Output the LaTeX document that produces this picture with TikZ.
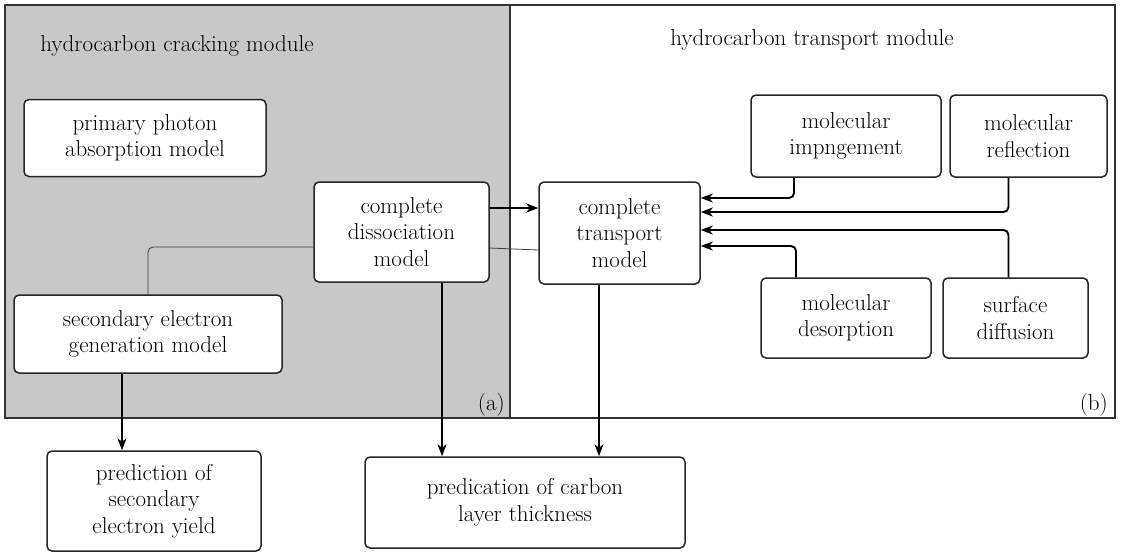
\documentclass[tikz,border=0pt]{standalone}
\usetikzlibrary{arrows.meta}
\definecolor{panelgray}{RGB}{200,200,200}
\definecolor{linegray}{RGB}{60,60,60}
\begin{document}
\begin{tikzpicture}[x=1pt,y=-1pt,
  box/.style={draw=black!85, line width=1.5pt, rounded corners=5pt, fill=white, align=center, inner sep=0pt, font=\fontsize{23}{26.5}\selectfont},
  arr/.style={line width=1.9pt, -{Stealth[length=12pt,width=9pt,inset=3.5pt]}},
  thinline/.style={line width=0.8pt, draw=linegray},
  lbl/.style={font=\fontsize{23}{26}\selectfont, inner sep=0pt}]
\useasboundingbox (0,0) rectangle (1121,555);
\fill[white] (0,0) rectangle (1121,555);
% panels
\draw[line width=2pt, draw=black!80, fill=panelgray] (5,5) rectangle (510,418);
\draw[line width=2pt, draw=black!80, fill=white] (510,5) rectangle (1115,418);
\node[lbl] (tl) at (177,46) {hydrocarbon cracking module};
\node[lbl] (tr) at (812,40) {hydrocarbon transport module};
\node[lbl, anchor=east] (pa) at (505,405) {(a)};
\node[lbl, anchor=east] (pb) at (1108,405) {(b)};
% nodes
\node[box, minimum width=242pt, minimum height=77pt] (prim) at (145,138) {primary photon\\absorption model};
\node[box, minimum width=175pt, minimum height=100pt] (diss) at (401.5,232) {complete\\dissociation\\model};
\node[box, minimum width=268pt, minimum height=78pt] (sec) at (148,334) {secondary electron\\generation model};
\node[box, minimum width=161pt, minimum height=102pt] (trans) at (619.5,233) {complete\\transport\\model};
\node[box, minimum width=190pt, minimum height=82pt] (imp) at (846,136) {molecular\\impngement};
\node[box, minimum width=157pt, minimum height=82pt] (refl) at (1028.5,136) {molecular\\reflection};
\node[box, minimum width=170pt, minimum height=80pt] (des) at (846,318) {molecular\\desorption};
\node[box, minimum width=145pt, minimum height=80pt] (surf) at (1015.5,318) {surface\\diffusion};
\node[box, minimum width=214pt, minimum height=100pt] (pred) at (154,501) {prediction of\\secondary\\electron yield};
\node[box, minimum width=320pt, minimum height=91pt] (carb) at (525,502.5) {predication of carbon\\layer thickness};
% connectors
\draw[arr] ([yshift=24pt]diss.east) -- ([yshift=25pt]trans.west);
\draw[thinline] ([yshift=-16pt]diss.east) -- ([yshift=-17pt]trans.west);
\draw[thinline, rounded corners=5pt] ([yshift=-15pt]diss.west) -| (sec.north);
\draw[arr, rounded corners=5pt] ([xshift=-52pt]imp.south) |- ([yshift=35pt]trans.east);
\draw[arr, rounded corners=5pt] ([xshift=-20pt]refl.south) |- ([yshift=21pt]trans.east);
\draw[arr, rounded corners=5pt] ([xshift=-7pt]surf.north) |- ([yshift=3pt]trans.east);
\draw[arr, rounded corners=5pt] ([xshift=-50pt]des.north) |- ([yshift=-13pt]trans.east);
\draw[arr] ([xshift=-26pt]sec.south) -- ([xshift=-26pt]sec.south |- pred.north);
\draw[arr] ([xshift=40.5pt]diss.south) -- ([xshift=40.5pt]diss.south |- carb.north);
\draw[arr] ([xshift=-20.5pt]trans.south) -- ([xshift=-20.5pt]trans.south |- carb.north);
\end{tikzpicture}
\end{document}
